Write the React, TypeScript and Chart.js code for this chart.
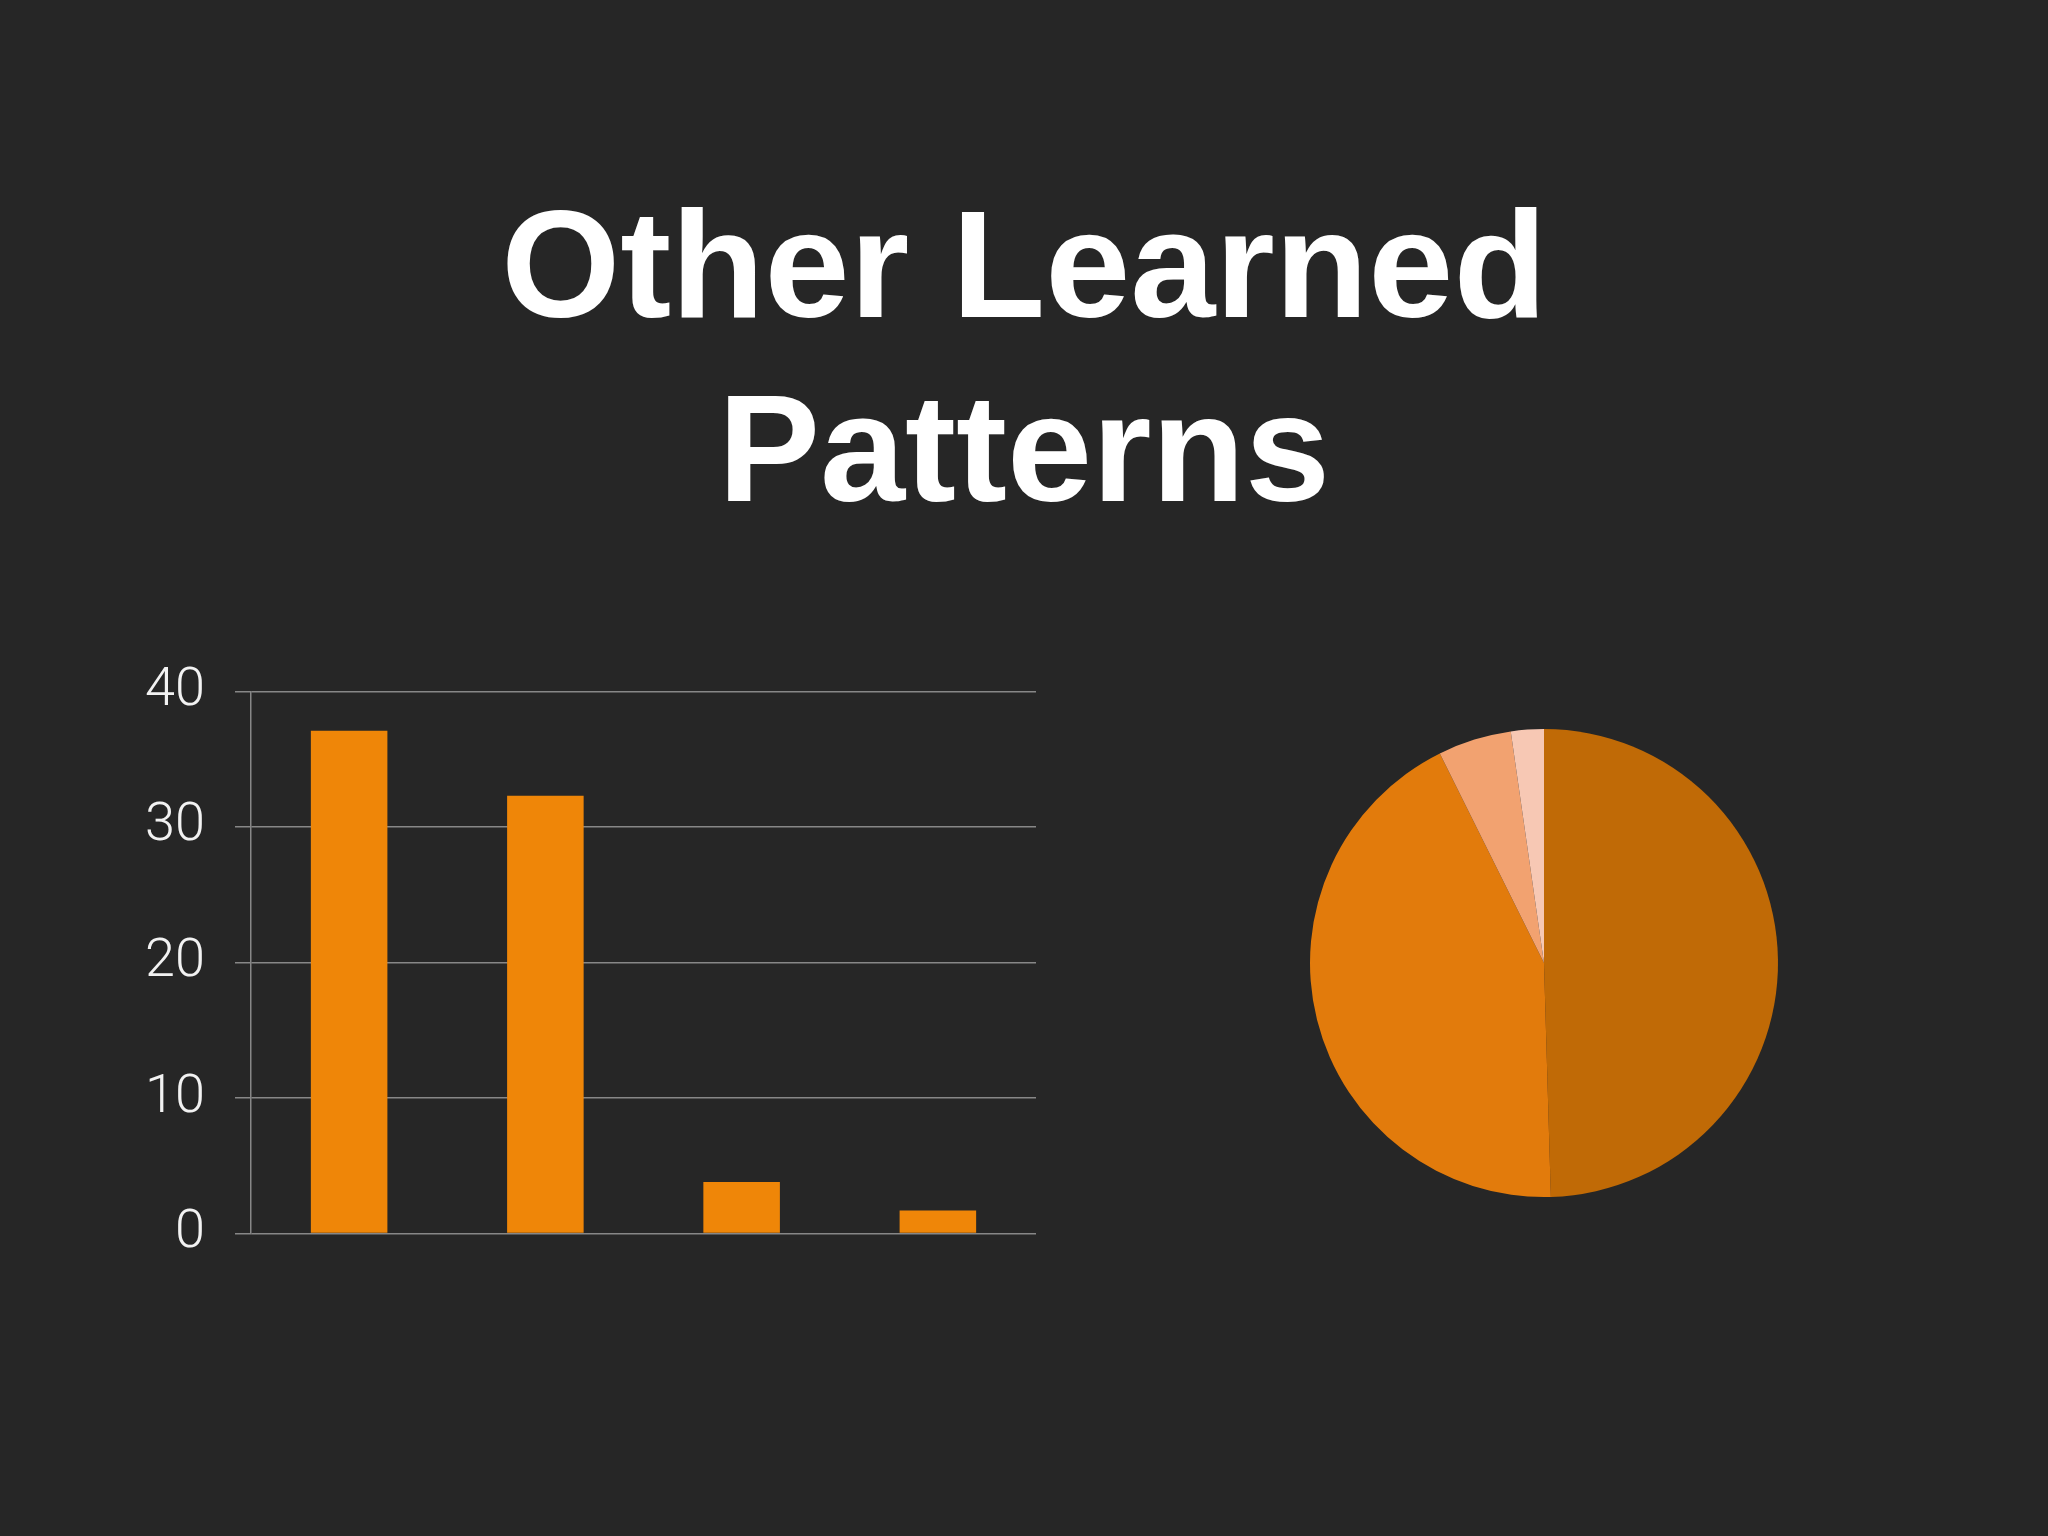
import React, { useEffect, useRef } from 'react';
import Chart from 'chart.js/auto';

const categories = ['A', 'B', 'C', 'D'];
const barValues = [37.1, 32.3, 3.8, 1.7];
const pieValues = [37.1, 32.3, 3.8, 1.7];
const yTicks = [0, 10, 20, 30, 40];

const bg = '#262626';
const barColor = '#ef8608';
const pieColors = ['#c06a06', '#e27b0c', '#f2a270', '#f7c8b4'];

function BarChart() {
    const ref = useRef<HTMLCanvasElement>(null);

    useEffect(() => {
        if (!ref.current) return;
        const chart = new Chart(ref.current, {
            type: 'bar',
            data: {
                labels: categories,
                datasets: [{
                    data: barValues,
                    backgroundColor: barColor,
                    borderWidth: 0,
                    barPercentage: 0.39,
                    categoryPercentage: 1,
                }],
            },
            options: {
                animation: false,
                responsive: true,
                maintainAspectRatio: false,
                layout: { padding: { top: 20, bottom: 19, left: 0, right: 24 } },
                plugins: { legend: { display: false }, tooltip: { enabled: false } },
                scales: {
                    x: { display: false },
                    y: {
                        min: 0,
                        max: 40,
                        afterBuildTicks: (scale: any) => {
                            scale.ticks = yTicks.map((v) => ({ value: v }));
                        },
                        afterFit: (scale: any) => {
                            scale.width = 151;
                        },
                        grid: {
                            color: 'rgba(160,160,160,0.8)',
                            lineWidth: 1.5,
                            tickLength: 16,
                        },
                        border: { color: 'rgba(160,160,160,0.8)', width: 1.5 },
                        ticks: {
                            color: '#f2f2f2',
                            padding: 30,
                            font: { family: "Roboto, 'Liberation Sans', sans-serif", size: 54, weight: '300' },
                        },
                    },
                },
            } as any,
        });
        return () => chart.destroy();
    }, []);

    return (
        <div style={{ position: 'absolute', left: 100, top: 629, width: 960, height: 667 }}>
            <canvas ref={ref}></canvas>
        </div>
    );
}

function PieChart() {
    const ref = useRef<HTMLCanvasElement>(null);

    useEffect(() => {
        if (!ref.current) return;
        const chart = new Chart(ref.current, {
            type: 'pie',
            data: {
                labels: categories,
                datasets: [{
                    data: pieValues,
                    backgroundColor: pieColors,
                    borderWidth: 0,
                }],
            },
            options: {
                animation: false,
                responsive: true,
                maintainAspectRatio: false,
                radius: 234,
                plugins: { legend: { display: false }, tooltip: { enabled: false } },
            } as any,
        });
        return () => chart.destroy();
    }, []);

    return (
        <div style={{ position: 'absolute', left: 1284, top: 703, width: 520, height: 520 }}>
            <canvas ref={ref}></canvas>
        </div>
    );
}

export default function App() {
    return (
        <div style={{ position: 'fixed', left: 0, top: 0, width: 2048, height: 1536, background: bg, overflow: 'hidden' }}>
            <h1 style={{
                position: 'absolute',
                top: 172,
                left: 0,
                width: 2048,
                margin: 0,
                textAlign: 'center',
                color: '#ffffff',
                fontFamily: "'Liberation Sans', Arial, sans-serif",
                fontWeight: 700,
                fontSize: 153,
                lineHeight: '184px',
            }}>
                Other Learned<br />Patterns
            </h1>
            <BarChart />
            <PieChart />
        </div>
    );
}
